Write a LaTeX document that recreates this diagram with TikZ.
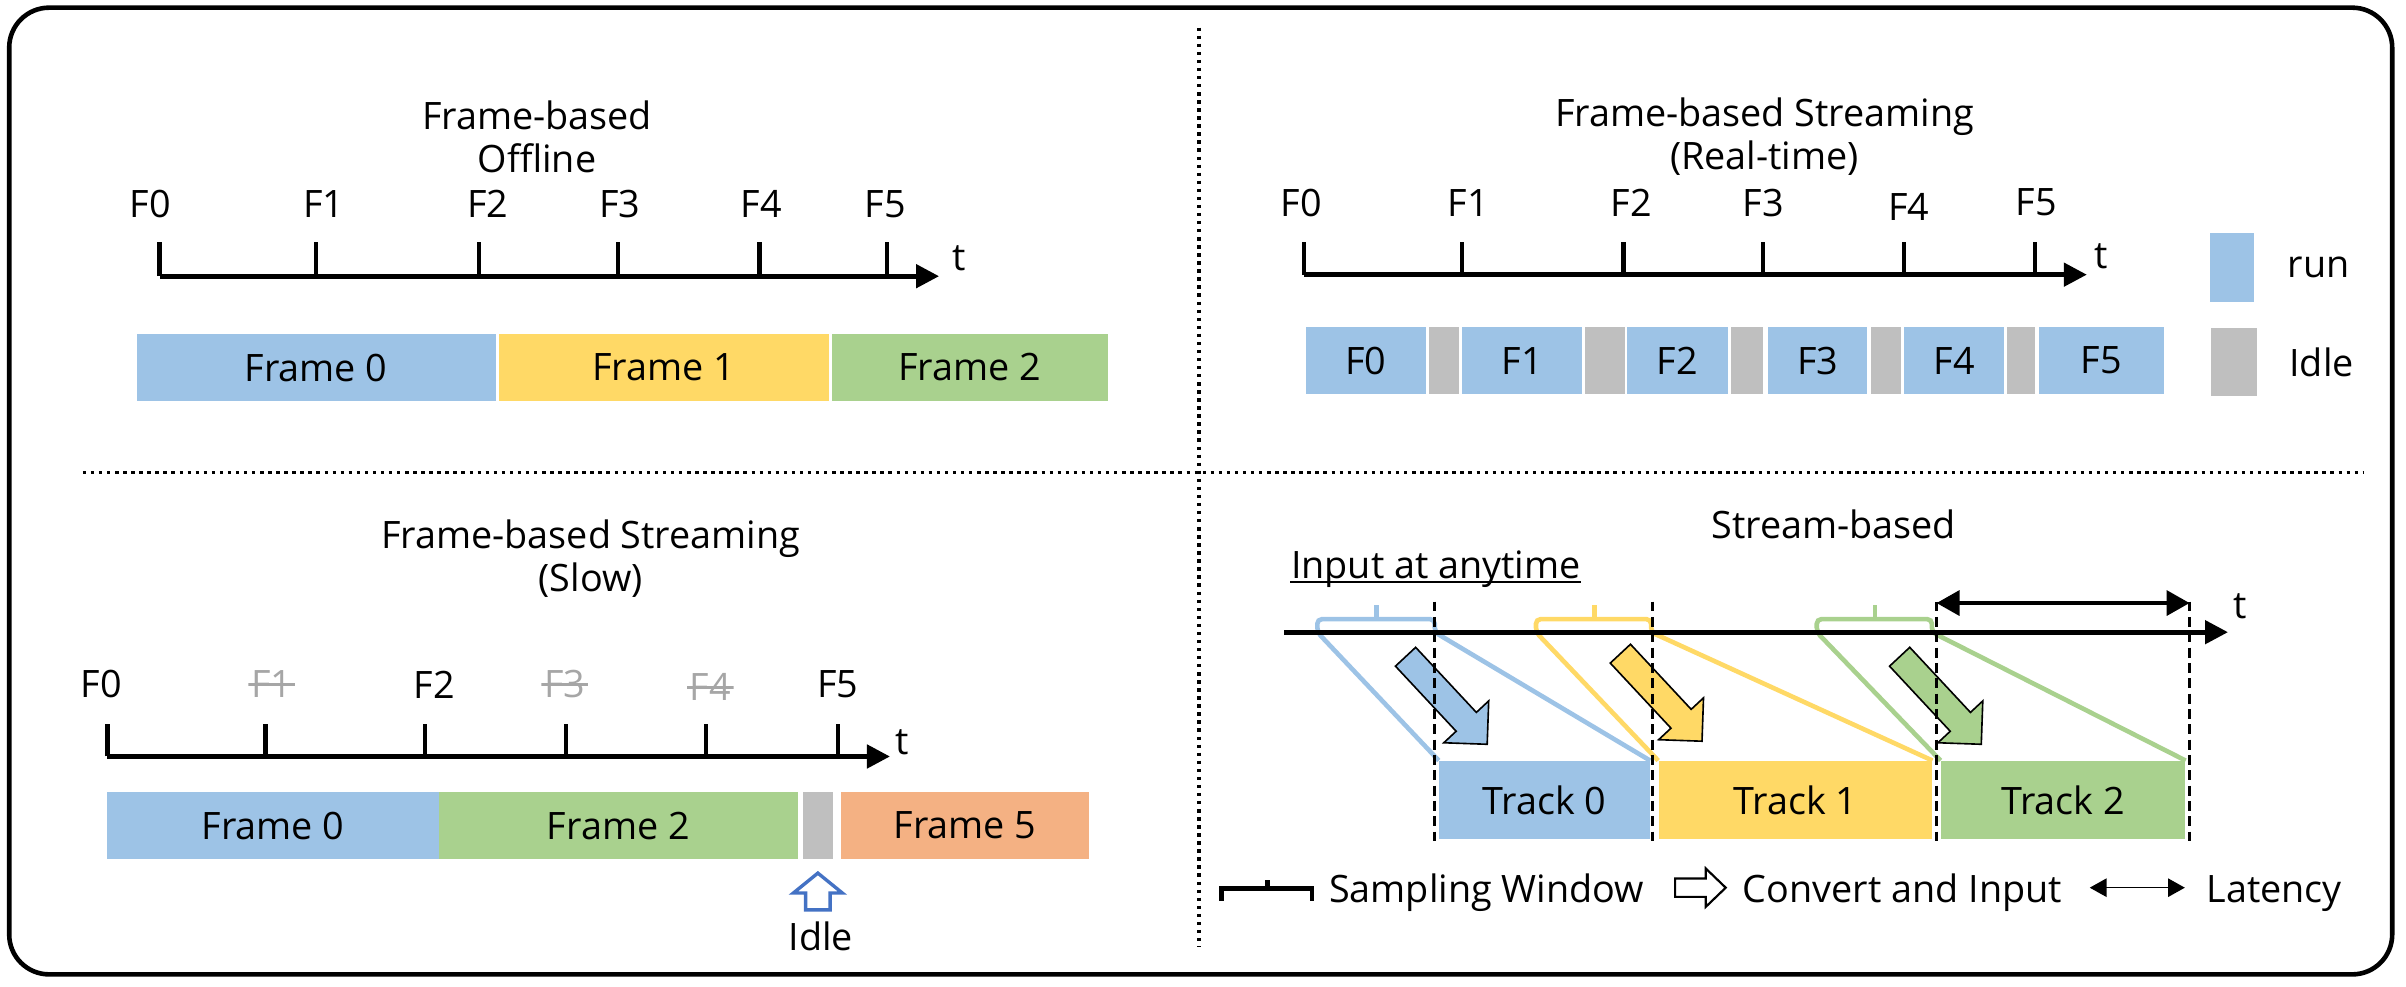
\documentclass[tikz,border=0pt]{standalone}
\usepackage{fontspec}
\setmainfont{Open Sans}
\usetikzlibrary{positioning,calc,arrows.meta}

\definecolor{cblue}{HTML}{9DC3E6}
\definecolor{cyel}{HTML}{FFD966}
\definecolor{cgreen}{HTML}{A9D18E}
\definecolor{cgray}{HTML}{BFBFBF}
\definecolor{corange}{HTML}{F4B183}
\definecolor{cidle}{HTML}{4472C4}
\definecolor{cgone}{HTML}{A6A6A6}

\begin{document}
\begin{tikzpicture}[x=0.2mm,y=-0.2mm,
    every node/.style={font=\fontsize{14}{16}\selectfont},
    bar/.style={inner sep=0pt,minimum height=8.8mm},
    tick/.style={line width=0.55mm},
    axis/.style={line width=0.62mm,-{Triangle[length=3mm,width=3mm]}},
    kept/.style={},
    gone/.style={text=cgone,inner xsep=1pt,path picture={\draw[cgone,line width=0.3mm]
        (path picture bounding box.west) -- (path picture bounding box.east);}},
    sep/.style={line width=0.45mm,dash pattern=on 0.45mm off 0.6mm},
    win/.style={line width=0.6mm,rounded corners=0.6mm},
    guide/.style={line width=0.38mm,dash pattern=on 1.3mm off 0.7mm},
    flow/.style={line width=0.6pt,line join=miter}]
  \useasboundingbox (0,0) rectangle (1568,643);
  \draw[line width=0.6mm,rounded corners=5.2mm] (6,5) rectangle (1559,635);
  % separators
  \coordinate (hl) at (54,308);
  \coordinate (hr) at (1540,308);
  \coordinate (vt) at (781.5,18);
  \coordinate (vb) at (781.5,617);
  \draw[sep] (hl) -- (hr);
  \draw[sep] (vt) -- (vb);

  % offline
  \node[align=center] (toff) at (350,89) {Frame-based\\Offline};
  \foreach \x/\lx [count=\i from 0] in {104/98,206/211,312/318,403/404,495/496,578/577} {
    \coordinate (a\i) at (\x,180);
    \draw[tick] (a\i) -- (\x,158);
    \node (la\i) at (\lx,133) {F\i};
  }
  \coordinate (aend) at (612,180);
  \draw[axis] (a0) -- (aend);
  \node (ta) at (625,168) {t};
  \node[bar,fill=cblue,minimum width=46.8mm] (o0) at (206,239.5) {Frame 0};
  \node[bar,fill=cyel,minimum width=43mm] (o1) at (432.5,239.5) {Frame 1};
  \node[bar,fill=cgreen,minimum width=36mm] (o2) at (632,239.5) {Frame 2};

  % real-time
  \node[align=center] (treal) at (1150,89) {Frame-based Streaming\\(Real-time)};
  \foreach \x/\lx/\ly [count=\i from 0] in {850/848/132,953/957/132,1058/1063/132,1149/1149/132,1241/1244/135,1326/1327/132} {
    \coordinate (b\i) at (\x,179);
    \draw[tick] (b\i) -- (\x,158);
    \node (lb\i) at (\lx,\ly) {F\i};
  }
  \coordinate (bend) at (1360,179);
  \draw[axis] (b0) -- (bend);
  \node (tb) at (1369,167) {t};
  \foreach \x/\w [count=\i from 0] in {890/15.6,992/15.6,1093/13.2,1184.5/13,1273.5/13,1369.5/16.2}
    \node[bar,fill=cblue,minimum width=\w mm] (r\i) at (\x,235) {F\i};
  \foreach \x/\w [count=\i] in {941/4,1046/5.2,1138.5/4.2,1229/4,1317/3.6}
    \node[bar,fill=cgray,minimum width=\w mm] (g\i) at (\x,235) {};
  \node[bar,fill=cblue,minimum width=5.8mm,minimum height=9mm] (krun) at (1454.5,174.5) {};
  \node (trun) at (1511,174) {run};
  \node[bar,fill=cgray,minimum width=6mm] (kidle) at (1456,236) {};
  \node (tidle) at (1513,236) {Idle};

  % slow
  \node[align=center] (tslow) at (385,364) {Frame-based Streaming\\(Slow)};
  \foreach \x/\lx/\ly/\s [count=\i from 0] in {70/66/446/kept,173/177/446/gone,277/283/446/kept,369/368/446/gone,460/463/448/gone,546/546/446/kept} {
    \coordinate (c\i) at (\x,493);
    \draw[tick] (c\i) -- (\x,472);
    \node[\s] (lc\i) at (\lx,\ly) {F\i};
  }
  \coordinate (cend) at (580,493);
  \draw[axis] (c0) -- (cend);
  \node (tc) at (588,484) {t};
  \node[bar,fill=cblue,minimum width=43.2mm] (s0) at (178,538) {Frame 0};
  \node[bar,fill=cgreen,minimum width=46.8mm] (s2) at (403,538) {Frame 2};
  \node[bar,fill=cgray,minimum width=4mm] (sidle) at (533,538) {};
  \node[bar,fill=corange,minimum width=32.4mm] (s5) at (629,538) {Frame 5};
  \draw[line width=0.44mm,draw=cidle,fill=white] (533,569) -- (549,582) -- (541,582) -- (541,593)
    -- (525,593) -- (525,582) -- (517,582) -- cycle;
  \node (tup) at (535,610) {Idle};

  % stream
  \node (tstream) at (1195,342) {Stream-based};
  \node[anchor=base west,inner sep=0pt] (inp) at (841,377) {Input at anytime};
  \draw[line width=0.6pt] ([yshift=-1.3pt]inp.base west) -- ([yshift=-1.3pt]inp.base east);
  \node[bar,fill=cblue,minimum width=27.4mm,minimum height=10.2mm] (trk1) at (1006.5,521.5) {Track 0};
  \node[bar,fill=cyel,minimum width=35.6mm,minimum height=10.2mm] (trk2) at (1170,521.5) {Track 1};
  \node[bar,fill=cgreen,minimum width=31.8mm,minimum height=10.2mm] (trk3) at (1344.5,521.5) {Track 2};
  \foreach \c/\l/\r/\m [count=\i] in {cblue/858.5/935/897,cyel/1001/1076/1039,cgreen/1184/1259/1222} {
    \coordinate (wl\i) at (\l,412);
    \coordinate (wr\i) at (\r,412);
    \draw[win,\c] (trk\i.north west) -- (wl\i) -- (\l,403.5) -- (\r,403.5) -- (wr\i) -- (trk\i.north east);
    \draw[win,\c] (\m,403.5) -- (\m,394);
  }
  \coordinate (st0) at (837,412);
  \coordinate (st1) at (1452,412);
  \draw[axis] (st0) -- (st1);
  \node (tst) at (1460,395) {t};
  \coordinate (lat0) at (1262,393);
  \coordinate (lat1) at (1427,393);
  \draw[line width=0.6mm,{Triangle[length=3mm,width=3.2mm]}-{Triangle[length=3mm,width=3.2mm]}] (lat0) -- (lat1);
  \foreach \c/\x/\y in {cblue/916/428,cyel/1056/426,cgreen/1238/428} {
    \begin{scope}[shift={(\x,\y)},rotate=-47]
      \draw[flow,fill=\c] (0,-9) -- (58,-9) -- (58,-20) -- (78,0) -- (58,20) -- (58,9) -- (0,9) -- cycle;
    \end{scope}
  }
  \foreach \x [count=\i] in {935,1077,1262,1427} {
    \coordinate (dt\i) at (\x,392);
    \coordinate (db\i) at (\x,548);
    \draw[guide] (dt\i) -- (db\i);
  }

  % legend
  \draw[line width=0.6mm] (796,587) -- (796,579) -- (855,579) -- (855,587);
  \draw[line width=0.6mm] (826,579) -- (826,573.5);
  \node[anchor=base west] (lsw) at (860,588) {Sampling Window};
  \coordinate (ca) at ($(lsw.base east)+(14,-9.5)$);
  \begin{scope}[shift={(ca)}]
    \draw[line width=0.8pt,fill=white] (0,-6) -- (20,-6) -- (20,-12.5) -- (33,0) -- (20,12.5) -- (20,6) -- (0,6) -- cycle;
  \end{scope}
  \node[anchor=base west] (lci) at ($(ca)+(38,9.5)$) {Convert and Input};
  \coordinate (lla) at ($(lci.base east)+(12,-9.5)$);
  \coordinate (llb) at ($(lla)+(62,0)$);
  \draw[line width=0.6pt,{Triangle[length=2.2mm,width=2.4mm]}-{Triangle[length=2.2mm,width=2.4mm]}] (lla) -- (llb);
  \node[anchor=base west] (llat) at ($(llb)+(8,9.5)$) {Latency};
\end{tikzpicture}
\end{document}
